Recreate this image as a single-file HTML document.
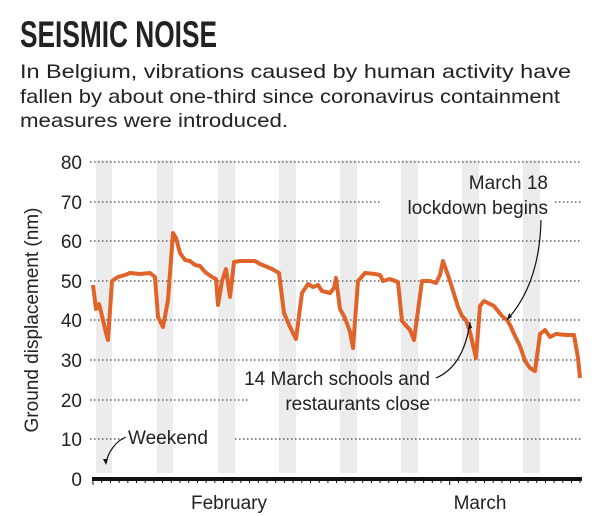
<!DOCTYPE html>
<html><head><style>
body{margin:0;background:#fff;width:600px;height:516px;overflow:hidden}
svg{display:block}
text{font-family:"Liberation Sans",sans-serif;fill:#222}
</style></head><body>
<svg width="600" height="516" viewBox="0 0 600 516">
<text x="20" y="47" font-size="37" font-weight="bold" transform="translate(20 0) scale(0.71 1) translate(-20 0)" fill="#1a1a1a">SEISMIC NOISE</text>
<text x="20" y="78" font-size="19.5" textLength="551" lengthAdjust="spacingAndGlyphs">In Belgium, vibrations caused by human activity have</text>
<text x="20" y="103" font-size="19.5" textLength="540" lengthAdjust="spacingAndGlyphs">fallen by about one-third since coronavirus containment</text>
<text x="20" y="127" font-size="19.5" textLength="268" lengthAdjust="spacingAndGlyphs">measures were introduced.</text>
<g fill="#ececec">
<rect x="96" y="160" width="16" height="313"/><rect x="157" y="160" width="16" height="313"/><rect x="218" y="160" width="17" height="313"/><rect x="279" y="160" width="17" height="313"/><rect x="340" y="160" width="17" height="313"/><rect x="401" y="160" width="17" height="313"/><rect x="462" y="160" width="17" height="313"/><rect x="523" y="160" width="17" height="313"/>
</g>
<g stroke="#444" stroke-width="1.2" stroke-dasharray="1.5 2.5">
<line x1="90" y1="162" x2="582" y2="162"/><line x1="90" y1="202" x2="382" y2="202"/><line x1="555" y1="202" x2="582" y2="202"/><line x1="90" y1="241" x2="582" y2="241"/><line x1="90" y1="281" x2="582" y2="281"/><line x1="90" y1="320" x2="582" y2="320"/><line x1="90" y1="360" x2="582" y2="360"/><line x1="90" y1="400" x2="250" y2="400"/><line x1="430" y1="400" x2="582" y2="400"/><line x1="90" y1="439" x2="125" y2="439"/><line x1="235" y1="439" x2="582" y2="439"/>
</g>
<g font-size="19" text-anchor="end">
<text x="82" y="169">80</text><text x="82" y="209">70</text><text x="82" y="248">60</text><text x="82" y="288">50</text><text x="82" y="327">40</text><text x="82" y="367">30</text><text x="82" y="407">20</text><text x="82" y="446">10</text><text x="82" y="486">0</text>
</g>
<text transform="translate(38 320) rotate(-90)" font-size="19" text-anchor="middle">Ground displacement (nm)</text>
<line x1="92" y1="479" x2="582" y2="479" stroke="#111" stroke-width="4"/>
<g stroke="#111" stroke-width="1">
<path d="M93 479v6M101.7 479v4M110.4 479v4M119.1 479v4M127.8 479v4M136.5 479v4M145.2 479v4M153.9 479v4M162.6 479v4M171.3 479v4M180 479v4M188.7 479v4M197.4 479v4M206.1 479v4M214.8 479v4M223.5 479v4M232.2 479v4M240.9 479v4M249.6 479v4M258.3 479v4M267 479v4M275.7 479v4M284.4 479v4M293.1 479v4M301.8 479v4M310.5 479v4M319.2 479v4M327.9 479v4M336.6 479v4M345.3 479v4M354 479v4M362.7 479v4M371.4 479v4M380.1 479v4M388.8 479v4M397.5 479v4M406.2 479v4M414.9 479v4M423.6 479v4M432.3 479v4M441 479v4M449.7 479v6M458.4 479v4M467.1 479v4M475.8 479v4M484.5 479v4M493.2 479v4M501.9 479v4M510.6 479v4M519.3 479v4M528 479v4M536.7 479v4M545.4 479v4M554.1 479v4M562.8 479v4M571.5 479v4M580 479v4"/>
</g>
<text x="229" y="509" font-size="19" text-anchor="middle">February</text>
<text x="480" y="509" font-size="19" text-anchor="middle">March</text>
<polyline fill="none" stroke="#e0632a" stroke-width="4" stroke-linejoin="round" points="93,285 96,309 99,304 103,320 106,333 108,340 112,281 118,277 125,275 130,273 140,274 150,273 155,277 158,317 163,327 168,300 173,233 176,238 180,253 185,260 190,261 195,265 200,266 205,272 212,277 216,279 218,305 222,281 226,269 230,297 234,262 240,261 248,261 255,261 260,264 265,266 272,269 279,273 284,313 290,327 296,339 302,293 308,284 313,287 318,285 322,291 330,293 334,288 336,278 340,309 345,318 350,332 353,348 358,281 365,273 375,274 380,275 383,281 390,279 398,282 402,321 410,330 414,340 422,281 430,281 436,283 440,275 443,261 450,281 458,307 462,316 466,320 470,332 476,358 480,306 484,301 494,306 502,316 507,320 510,325 515,336 520,346 525,361 530,368 535,371 540,334 545,330 550,337 556,334 566,335 574,335 578,358 580,378"/>
<g font-size="19" text-anchor="end">
<text x="548" y="189">March 18</text>
<text x="548" y="214">lockdown begins</text>
<text x="430" y="385">14 March schools and</text>
<text x="430" y="410">restaurants close</text>
</g>
<text x="128" y="444" font-size="19">Weekend</text>
<g fill="none" stroke="#111" stroke-width="1.2">
<path d="M541 220 C540 270 525 300 507 320"/>
<path d="M436 378 C455 370 466 350 470 322"/>
<path d="M126 437 C116 441 108 452 106 463"/>
</g>
<g fill="#111">
<path d="M507 320 l2 -7 l3 4z"/>
<path d="M470 322 l-2 7 l4 -1z"/>
<path d="M106 465 l-3 -6 l5 0z"/>
</g>
</svg>
</body></html>
